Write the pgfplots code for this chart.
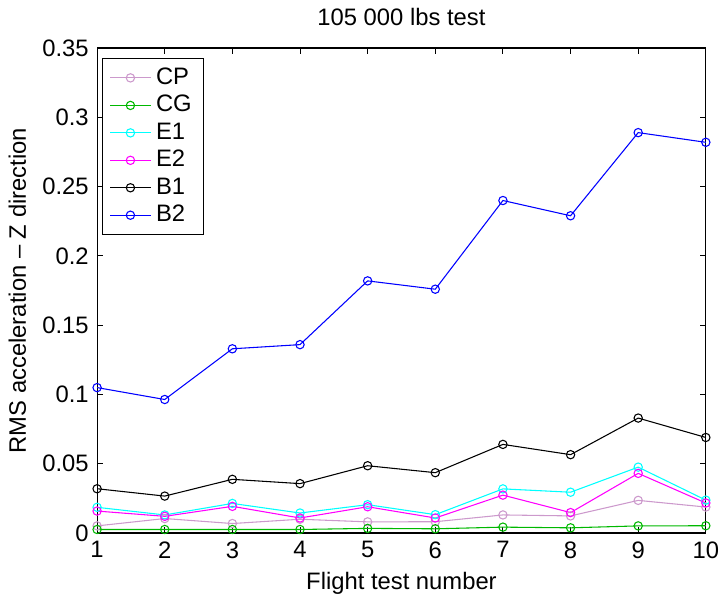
\documentclass[border=0pt]{standalone}
\usepackage{pgfplots}
\pgfplotsset{compat=1.18}
\usepackage{fontspec}
\setmainfont{Liberation Sans}
\definecolor{cpcol}{rgb}{0.8,0.6,0.8}
\definecolor{cgcol}{rgb}{0,0.72,0}
\definecolor{e1col}{rgb}{0,1,1}
\definecolor{e2col}{rgb}{1,0,1}
\definecolor{b2col}{rgb}{0,0,1}
\begin{document}
\fontsize{10}{12}\selectfont
\begin{tikzpicture}
\begin{axis}[
  scale only axis, width=255.8pt, height=203.8pt,
  xmin=1, xmax=10, ymin=0, ymax=0.35,
  xtick={1,2,3,4,5,6,7,8,9,10},
  ytick={0,0.05,0.1,0.15,0.2,0.25,0.3,0.35},
  yticklabels={0,0.05,0.1,0.15,0.2,0.25,0.3,0.35},
  xtick pos=both, ytick pos=both, tick align=inside,
  major tick length=2.5pt,
  every tick/.style={black, line width=0.4pt},
  axis line style={line width=0.5pt},
  /pgf/number format/assume math mode=true,
  tick label style={font=\fontsize{10}{12}\selectfont},
  label style={font=\fontsize{10}{12}\selectfont},
  title style={font=\fontsize{10}{12}\selectfont},
  title={105 000 lbs test},
  xlabel={Flight test number},
  xlabel style={yshift=1pt},
  ylabel={RMS acceleration – Z direction},
  legend style={at={(0.008,0.98)}, anchor=north west, draw=black, line width=0.4pt,
    font=\fontsize{10}{12}\selectfont, row sep=-0.9pt},
  legend cell align=left,
  every axis plot/.append style={line width=0.45pt, mark=o, mark size=1.75pt, mark options={solid}},
]
\addplot[color=cpcol] coordinates {(1,0.0052)(2,0.0105)(3,0.0069)(4,0.0100)(5,0.0081)(6,0.0082)(7,0.0131)(8,0.0124)(9,0.0236)(10,0.0188)};
\addlegendentry{CP}
\addplot[color=cgcol] coordinates {(1,0.0026)(2,0.0026)(3,0.0026)(4,0.0026)(5,0.0034)(6,0.0031)(7,0.0043)(8,0.0038)(9,0.0052)(10,0.0053)};
\addlegendentry{CG}
\addplot[color=e1col] coordinates {(1,0.0186)(2,0.0131)(3,0.0214)(4,0.0145)(5,0.0205)(6,0.0133)(7,0.0319)(8,0.0295)(9,0.0476)(10,0.0238)};
\addlegendentry{E1}
\addplot[color=e2col] coordinates {(1,0.0159)(2,0.0121)(3,0.0193)(4,0.0109)(5,0.0190)(6,0.0109)(7,0.0274)(8,0.0148)(9,0.0431)(10,0.0217)};
\addlegendentry{E2}
\addplot[color=black] coordinates {(1,0.0320)(2,0.0267)(3,0.0388)(4,0.0357)(5,0.0486)(6,0.0436)(7,0.0640)(8,0.0566)(9,0.0830)(10,0.0690)};
\addlegendentry{B1}
\addplot[color=b2col] coordinates {(1,0.1050)(2,0.0964)(3,0.1330)(4,0.1360)(5,0.1820)(6,0.1760)(7,0.2400)(8,0.2290)(9,0.2890)(10,0.2820)};
\addlegendentry{B2}
\end{axis}
\path (current axis.south west) ++(-40.8pt,-24.6pt);
\path (current axis.north east) ++(6.25pt,18.75pt);
\end{tikzpicture}
\end{document}
